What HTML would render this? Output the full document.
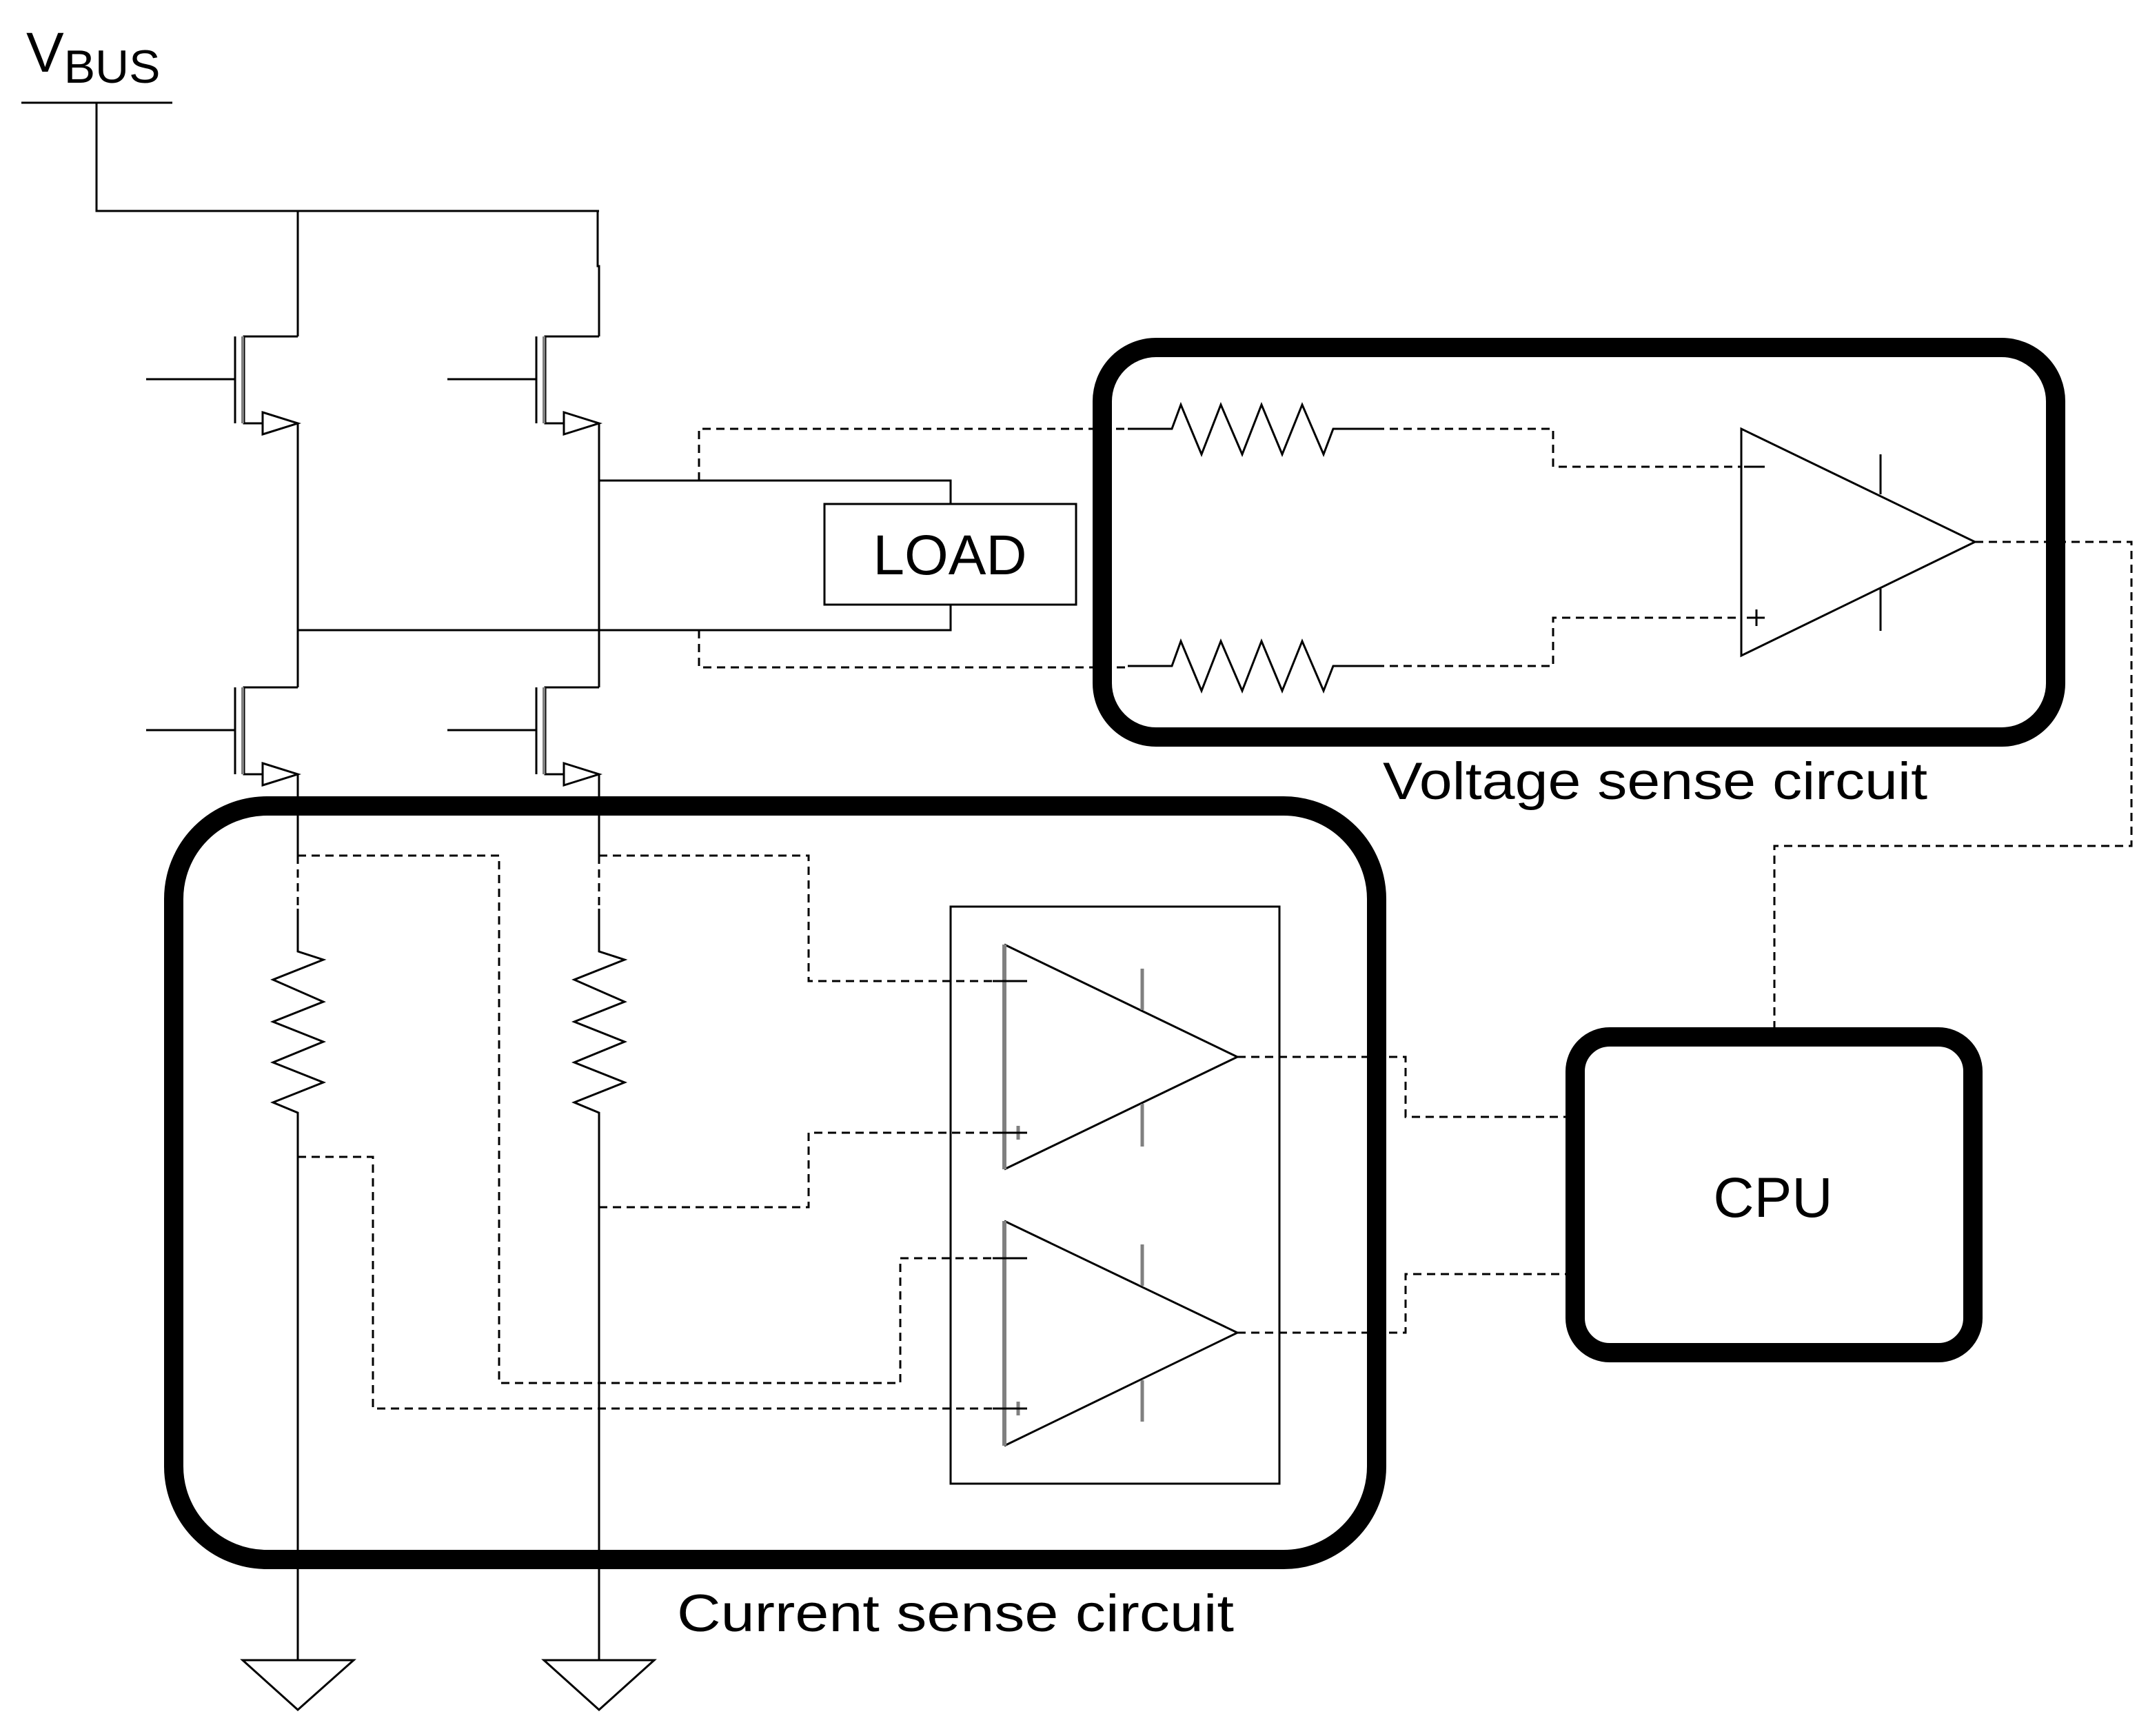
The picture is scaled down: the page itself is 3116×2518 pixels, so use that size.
<!DOCTYPE html>
<html><head><style>html,body{margin:0;padding:0;background:#fff}svg{display:block}</style></head>
<body>
<svg width="3116" height="2518" viewBox="0 0 3116 2518" xmlns="http://www.w3.org/2000/svg" font-family="Liberation Sans, sans-serif">
<rect width="3116" height="2518" fill="#fff"/>
<g stroke="#000" stroke-width="3" fill="none">
<!-- VBUS -->
<line x1="31" y1="149" x2="250" y2="149"/>
<polyline points="140,149 140,306 869,306"/>
<polyline points="867,306 867,386 869,386 869,488"/>
<line x1="432" y1="306" x2="432" y2="488"/>
<!-- transistors -->
<g id="t">
<polyline points="432,488 354,488 354,614 381,614"/>
<line x1="341" y1="488" x2="341" y2="614"/>
<line x1="212" y1="550" x2="341" y2="550"/>
<polygon points="381,598 381,630 432,614" fill="#fff"/>
</g>
<use href="#t" x="437" y="0"/>
<use href="#t" x="0" y="509"/>
<use href="#t" x="437" y="509"/>
<line x1="432" y1="614" x2="432" y2="997"/>
<line x1="869" y1="614" x2="869" y2="997"/>
<line x1="432" y1="1123" x2="432" y2="1241"/>
<line x1="869" y1="1123" x2="869" y2="1241"/>
<!-- load -->
<polyline points="869,697 1379,697 1379,731"/>
<polyline points="432,914 1379,914 1379,877"/>
<rect x="1196" y="731" width="365" height="146"/>
<!-- current resistors -->
<polyline points="432,1318 432,1380 469,1392 396,1421 469,1453 396,1482 469,1511 396,1541 469,1570 396,1599 432,1614 432,2408"/>
<polyline points="869,1318 869,1380 906,1392 833,1421 906,1453 833,1482 906,1511 833,1541 906,1570 833,1599 869,1614 869,2408"/>
<polygon points="352,2408 513,2408 432,2480"/>
<polygon points="789,2408 949,2408 869,2480"/>
<!-- voltage resistors -->
<polyline points="1636,622 1700,622 1713,587 1743,659 1771,587 1802,659 1830,587 1860,659 1889,587 1920,659 1934,622 1996,622"/>
<polyline points="1636,966 1700,966 1713,930 1743,1002 1771,930 1802,1002 1830,930 1860,1002 1889,930 1920,1002 1934,966 1996,966"/>
<!-- voltage opamp -->
<polygon points="2526,622 2526,951 2865,786"/>
<line x1="2728" y1="659" x2="2728" y2="717"/>
<line x1="2728" y1="854" x2="2728" y2="915"/>
<line x1="2530" y1="677" x2="2560" y2="677"/>
<line x1="2534" y1="896" x2="2560" y2="896"/>
<line x1="2548" y1="884" x2="2548" y2="908"/>
<!-- opamp box -->
<rect x="1379" y="1315" width="477" height="837"/>
<polyline points="1457,1370 1795,1533 1457,1696"/>
<polyline points="1457,1771 1795,1933 1457,2097"/>
</g>
<g stroke="#808080" stroke-width="4" fill="none">
<line x1="352" y1="488" x2="352" y2="614"/>
<line x1="789" y1="488" x2="789" y2="614"/>
<line x1="352" y1="997" x2="352" y2="1123"/>
<line x1="789" y1="997" x2="789" y2="1123"/>
<line x1="1457" y1="1370" x2="1457" y2="1696" stroke-width="6"/>
<line x1="1457" y1="1771" x2="1457" y2="2097" stroke-width="6"/>
<line x1="1657" y1="1405" x2="1657" y2="1465" stroke-width="5"/>
<line x1="1657" y1="1601" x2="1657" y2="1663" stroke-width="5"/>
<line x1="1657" y1="1805" x2="1657" y2="1865" stroke-width="5"/>
<line x1="1657" y1="2002" x2="1657" y2="2062" stroke-width="5"/>
<line x1="1477" y1="1633" x2="1477" y2="1653" stroke-width="5"/>
<line x1="1477" y1="2033" x2="1477" y2="2053" stroke-width="5"/>
</g>
<g stroke="#000" stroke-width="3" fill="none">
<line x1="1440" y1="1423" x2="1490" y2="1423"/>
<line x1="1440" y1="1643" x2="1490" y2="1643"/>
<line x1="1440" y1="1825" x2="1490" y2="1825"/>
<line x1="1440" y1="2043" x2="1490" y2="2043"/>
</g>
<!-- dashed -->
<g stroke="#000" stroke-width="3" fill="none" stroke-dasharray="12,8">
<polyline points="1014,697 1014,622 1636,622"/>
<polyline points="1014,914 1014,968 1636,968"/>
<polyline points="1996,622 2253,622 2253,677 2526,677"/>
<polyline points="1996,966 2253,966 2253,896 2526,896"/>
<polyline points="2865,786 3092,786 3092,1227 2574,1227 2574,1504"/>
<line x1="432" y1="1241" x2="432" y2="1318"/>
<line x1="869" y1="1241" x2="869" y2="1318"/>
<polyline points="432,1241 724,1241 724,2006 1306,2006 1306,1825 1440,1825"/>
<polyline points="432,1678 541,1678 541,2043 1440,2043"/>
<polyline points="869,1241 1173,1241 1173,1423 1440,1423"/>
<polyline points="869,1751 1173,1751 1173,1643 1440,1643"/>
<polyline points="1795,1533 2039,1533 2039,1620 2285,1620"/>
<polyline points="1795,1933 2039,1933 2039,1848 2285,1848"/>
</g>
<!-- thick boxes -->
<g stroke="#000" stroke-width="28" fill="none">
<rect x="1599" y="504" width="1383" height="565" rx="78" ry="78"/>
<rect x="252" y="1169" width="1745" height="1093" rx="135" ry="135"/>
<rect x="2285" y="1504" width="577" height="458" rx="50" ry="50"/>
</g>
<!-- text -->
<text x="38" y="104" font-size="82" fill="#000">V<tspan font-size="68" dy="16">BUS</tspan></text>
<text x="1378" y="833" font-size="82" fill="#000" text-anchor="middle">LOAD</text>
<text x="2572" y="1765" font-size="82" fill="#000" text-anchor="middle">CPU</text>
<text x="2006" y="1159" font-size="76" fill="#000" textLength="790" lengthAdjust="spacingAndGlyphs">Voltage sense circuit</text>
<text x="982" y="2366" font-size="76" fill="#000" textLength="808" lengthAdjust="spacingAndGlyphs">Current sense circuit</text>
</svg>
</body></html>
